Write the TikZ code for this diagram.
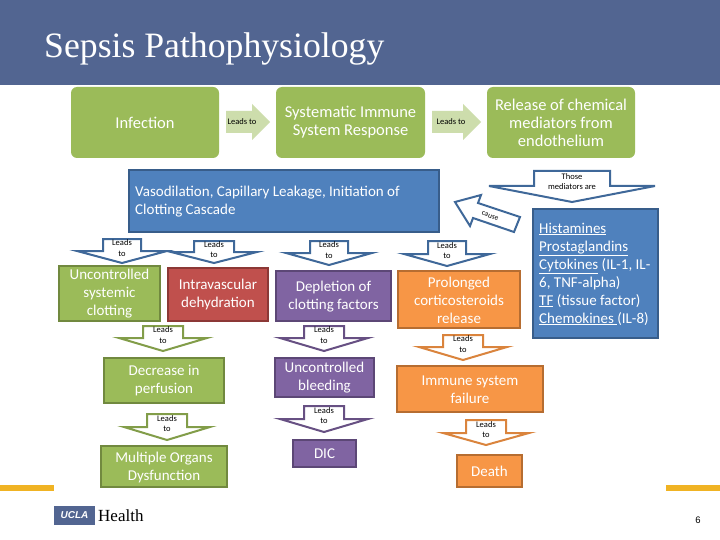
\documentclass[tikz,border=0pt]{standalone}
\usepackage{fontspec}
\setmainfont{Carlito}
\newfontfamily\serifF{Liberation Serif}
\newfontfamily\sansF{Liberation Sans}
\definecolor{banner}{HTML}{526591}
\definecolor{gold}{HTML}{F0B323}
\definecolor{grnF}{HTML}{9BBB59}\definecolor{grnD}{HTML}{71893F}
\definecolor{bluF}{HTML}{4F81BD}\definecolor{bluD}{HTML}{385D8A}
\definecolor{redF}{HTML}{C0504D}\definecolor{redD}{HTML}{8C3836}
\definecolor{purF}{HTML}{8064A2}\definecolor{purD}{HTML}{5C4776}
\definecolor{orgF}{HTML}{F79646}\definecolor{orgD}{HTML}{B66D31}
\definecolor{pale}{HTML}{CDDDAC}
\tikzset{
  x=1pt,y=-1pt,
  boxtext/.style={text=white,font=\fontsize{15}{18}\selectfont,align=center,inner sep=0pt},
  bigtext/.style={boxtext,font=\fontsize{16.5}{18}\selectfont},
  softbox/.style={fill=grnF,rounded corners=6pt},
  hardbox/.style={line width=2pt},
  tiny lbl/.style={font=\fontsize{8.5}{10.5}\selectfont,align=center,inner sep=0pt,text=black},
  blockarrow/.style={fill=white,line width=2pt,line join=miter},
}
% name, cx, half width, half shaft, top, neck, tip, colour, text
\newcommand{\downblock}[9]{%
  \draw[blockarrow,draw=#8] (#2-#4,#5)--(#2+#4,#5)--(#2+#4,#6)--(#2+#3,#6)--(#2,#7)--(#2-#3,#6)--(#2-#4,#6)--(#2-#4,#5)--cycle;
  \node[tiny lbl] (#1) at (#2,{(#5+#6)/2+3}) {#9};}
% name, x0,y0,x1,y1, fill, draw, text
\newcommand{\cbox}[8]{%
  \path[hardbox,fill=#6,draw=#7] (#2,#3) rectangle (#4,#5);
  \node[boxtext] (#1) at ({(#2+#4)/2},{(#3+#5)/2+0.5}) {#8};}
\newcommand{\rbox}[6]{%
  \path[softbox] (#2,#3) rectangle (#4,#5);
  \node[bigtext] (#1) at ({(#2+#4)/2},{(#3+#5)/2}) {#6};}
\begin{document}
\begin{tikzpicture}
\useasboundingbox (0,0) rectangle (720,540);
\fill[white] (0,0) rectangle (720,540);
\fill[banner] (0,0) rectangle (720,85);
\node[anchor=base west,inner sep=0pt,text=white,font=\serifF\fontsize{35.7}{40}\selectfont] (title) at (44,58) {Sepsis Pathophysiology};
\fill[gold] (0,485) rectangle (54,491);
\fill[gold] (666,485) rectangle (720,491);
% top row
\rbox{infection}{71}{87}{219}{158}{Infection}
\rbox{sirs}{276}{87}{425}{158}{Systematic Immune\\System Response}
\rbox{release}{487}{87}{635}{158}{Release of chemical\\mediators from\\endothelium}
\fill[pale] (226,111)--(252,111)--(252,104)--(270,122)--(252,140)--(252,133)--(226,133)--cycle;
\node[tiny lbl] (lead1) at (242,122) {Leads to};
\fill[pale] (432,111)--(463,111)--(463,104)--(481,122)--(463,140)--(463,133)--(432,133)--cycle;
\node[tiny lbl] (lead2) at (451,122) {Leads to};
% blue boxes
\path[hardbox,fill=bluF,draw=bluD] (129,170) rectangle (439,232);
\node[boxtext,anchor=west,align=left] (vaso) at (135,202) {Vasodilation, Capillary Leakage, Initiation of\\Clotting Cascade};
\path[hardbox,fill=bluF,draw=bluD] (533,209) rectangle (658,338);
\node[boxtext,anchor=north west,align=left] (list) at (539,222.5) {\underline{Histamines}\\\underline{Prostaglandins}\\\underline{Cytokines} (IL-1, IL-\\6, TNF-alpha)\\\underline{TF} (tissue factor)\\\underline{Chemokines }(IL-8)};
\downblock{those}{572}{83}{38}{171}{186}{202}{bluD!70!bluF}{Those\\mediators are}
\draw[blockarrow,draw=bluD!70!bluF] (455,202)--(481,195)--(478,203)--(520,217)--(514,232)--(473,218)--(470,226)--cycle;
\node[tiny lbl,rotate=-20,font=\fontsize{7.5}{9}\selectfont] (cause) at (490,216) {cause};
% row of arrows
\downblock{la}{122}{45}{19}{239}{251}{263}{bluD!70!bluF}{Leads\\to}
\downblock{lb}{214}{43}{20}{241}{252}{263}{bluD!70!bluF}{Leads\\to}
\downblock{lc}{329}{43}{19}{241}{253}{265}{bluD!70!bluF}{Leads\\to}
\downblock{ld}{447}{43}{19}{241}{254}{266}{bluD!70!bluF}{Leads\\to}
% second row
\cbox{unc}{59}{266}{160}{321}{grnF}{grnD}{Uncontrolled\\systemic\\clotting}
\cbox{intra}{168}{268}{268}{321}{redF}{redD}{Intravascular\\dehydration}
\cbox{depl}{276}{271}{391}{321}{purF}{purD}{Depletion of\\clotting factors}
\cbox{prol}{398}{271}{520}{328}{orgF}{orgD}{Prolonged\\corticosteroids\\release}
\downblock{le}{163}{44}{20}{326}{338}{351}{grnD!60!grnF}{Leads\\to}
\downblock{lg}{324}{44}{20}{326}{338}{351}{purD!70!purF}{Leads\\to}
\downblock{li}{463}{44}{20}{335}{347}{360}{orgD!45!orgF}{Leads\\to}
% third row
\cbox{decr}{104}{358}{224}{403}{grnF}{grnD}{Decrease in\\perfusion}
\cbox{bleed}{275}{358}{374}{397}{purF}{purD}{Uncontrolled\\bleeding}
\cbox{immune}{397}{366}{543}{412}{orgF}{orgD}{Immune system\\failure}
\downblock{lf}{167}{43}{20}{414}{427}{440}{grnD!60!grnF}{Leads\\to}
\downblock{lh}{324}{44}{20}{406}{419}{432}{purD!70!purF}{Leads\\to}
\downblock{lj}{486}{43}{20}{420}{433}{445}{orgD!45!orgF}{Leads\\to}
% bottom row
\cbox{organs}{101}{446}{227}{487}{grnF}{grnD}{Multiple Organs\\Dysfunction}
\cbox{dic}{293}{440}{356}{467}{purF}{purD}{DIC}
\cbox{death}{457}{455}{522}{487}{orgF}{orgD}{Death}
% footer
\fill[banner] (54,506) rectangle (95,525);
\node[inner sep=0pt,text=white,font=\sansF\bfseries\itshape\fontsize{10}{12}\selectfont] (ucla) at (74.5,515.5) {UCLA};
\node[anchor=west,inner sep=0pt,text=black,font=\serifF\fontsize{17}{18}\selectfont] (health) at (98,515.5) {Health};
\node[inner sep=0pt,text=black,font=\sansF\fontsize{9.5}{11}\selectfont] (page) at (698,520) {6};
\end{tikzpicture}
\end{document}
